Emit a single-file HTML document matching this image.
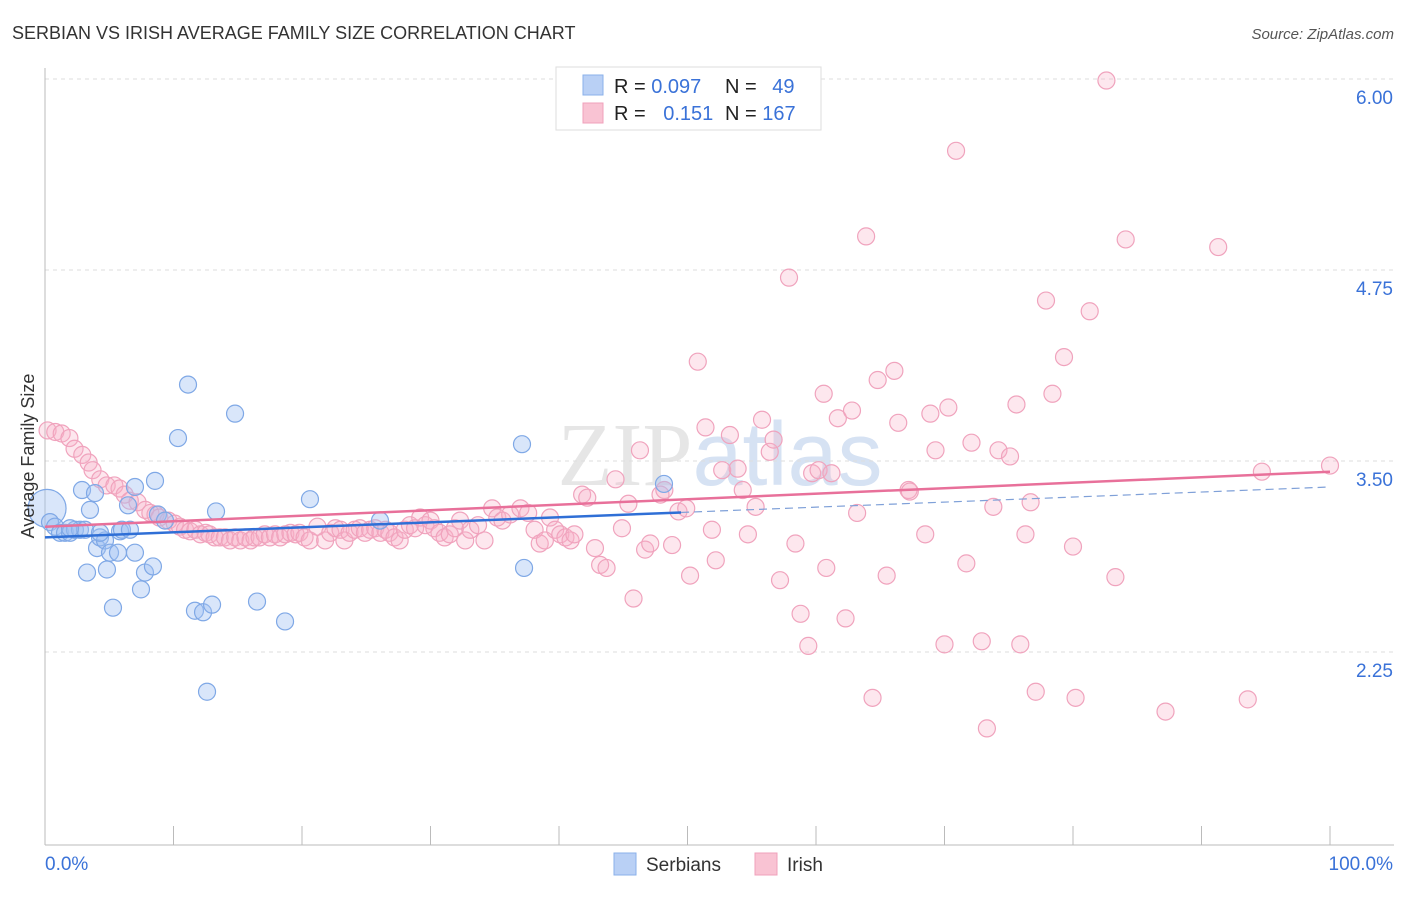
<!DOCTYPE html>
<html><head><meta charset="utf-8"><style>
body{margin:0;background:#fff;font-family:"Liberation Sans",sans-serif}
</style></head><body>
<svg id="c" width="1406" height="892" xmlns="http://www.w3.org/2000/svg">
<text x="12" y="39" font-size="18" fill="#333">SERBIAN VS IRISH AVERAGE FAMILY SIZE CORRELATION CHART</text>
<text x="1394" y="39" font-size="15" fill="#555" font-style="italic" text-anchor="end">Source: ZipAtlas.com</text>
<text x="720" y="485" font-size="90" fill="#e6e6e6" text-anchor="middle" font-family="Liberation Serif">ZIP<tspan fill="#d6e2f3" font-family="Liberation Sans">atlas</tspan></text>
<g id="grid"></g>
<g id="axes"></g>
<g id="pts"></g>
<g id="lines"></g>
<text transform="translate(34,456) rotate(-90)" font-size="18" fill="#333" text-anchor="middle">Average Family Size</text>
<g>
<rect x="556" y="67" width="265" height="63" fill="#fff" stroke="#ddd"/>
<rect x="583" y="75" width="20" height="20" fill="#b9d0f5" stroke="#8ab0ea"/>
<rect x="583" y="103" width="20" height="20" fill="#f9c3d3" stroke="#f0a0bb"/>
<text x="614" y="93" font-size="20" fill="#222">R = <tspan fill="#3a72d8">0.097</tspan></text>
<text x="725" y="93" font-size="20" fill="#222">N = <tspan fill="#3a72d8" dx="10">49</tspan></text>
<text x="614" y="120" font-size="20" fill="#222">R = <tspan fill="#3a72d8" dx="12">0.151</tspan></text>
<text x="725" y="120" font-size="20" fill="#222">N = <tspan fill="#3a72d8">167</tspan></text>
</g>
<g>
<rect x="614" y="853" width="22" height="22" fill="#b9d0f5" stroke="#8ab0ea"/>
<text x="646" y="871" font-size="19" fill="#333">Serbians</text>
<rect x="755" y="853" width="22" height="22" fill="#f9c3d3" stroke="#f0a0bb"/>
<text x="787" y="871" font-size="19" fill="#333">Irish</text>
</g>
</svg>
<script>
const yTicks=[6.00,4.75,3.50,2.25];
const serX=[0.16,0.39,0.78,1.17,1.56,1.95,2.33,2.72,3.11,2.88,3.89,3.5,4.05,4.28,4.67,5.06,5.68,5.84,5.99,7.0,3.27,4.82,7.78,8.4,7.47,5.29,6.46,7.0,8.56,8.79,9.34,10.35,11.13,11.67,12.3,13.0,13.31,14.79,12.61,16.5,18.68,20.62,26.07,37.12,37.28,48.17,4.28,1.95,6.61];
const serY=[3.19,3.10,3.07,3.03,3.03,3.03,3.05,3.05,3.05,3.31,3.29,3.18,2.93,3.00,2.98,2.90,2.90,3.04,3.05,2.90,2.77,2.79,2.77,2.81,2.66,2.54,3.21,3.33,3.37,3.15,3.11,3.65,4.00,2.52,2.51,2.56,3.17,3.81,1.99,2.58,2.45,3.25,3.11,3.61,2.80,3.35,3.03,3.06,3.05];
const irX=[0.2,0.8,1.3,1.9,2.3,2.9,3.4,3.7,4.3,4.8,5.4,5.8,6.2,6.6,7.2,7.8,8.2,8.6,8.9,9.6,10.1,10.5,10.9,11.3,11.7,12.1,12.5,12.8,13.2,13.6,14.0,14.4,14.8,15.2,15.6,16.0,16.3,16.7,17.1,17.5,17.9,18.3,18.7,19.1,19.5,19.8,20.2,20.6,21.2,21.8,22.2,22.6,23.0,23.3,23.7,24.1,24.5,24.9,25.3,25.7,26.1,26.5,26.8,27.2,27.6,28.0,28.4,28.8,29.2,29.6,30.0,30.3,30.7,31.1,31.5,31.9,32.3,32.7,33.1,33.7,34.2,34.8,35.2,35.6,36.2,37.0,37.6,38.1,38.5,38.9,39.3,39.7,40.1,40.5,40.9,41.2,41.8,42.2,42.8,43.2,43.7,44.4,44.9,45.4,45.8,46.3,46.7,47.1,47.9,48.2,48.8,49.3,49.9,50.2,50.8,51.4,51.9,52.2,52.7,53.3,53.9,54.3,54.7,55.3,55.8,56.4,56.7,57.2,57.9,58.4,58.8,59.4,59.7,60.2,60.6,60.8,61.2,61.7,62.3,62.8,63.2,63.9,64.4,64.8,65.5,66.1,66.4,67.2,67.3,68.5,68.9,69.3,70.0,70.3,70.9,71.7,72.1,72.9,73.3,73.8,74.2,75.1,75.6,75.9,76.3,76.7,77.1,77.9,78.4,79.3,80.0,80.2,81.3,82.6,83.3,84.1,87.2,91.3,93.6,94.7,100.0];
const irY=[3.70,3.69,3.68,3.65,3.58,3.54,3.49,3.44,3.38,3.34,3.34,3.32,3.28,3.24,3.23,3.18,3.16,3.15,3.13,3.11,3.09,3.07,3.05,3.04,3.05,3.02,3.03,3.02,3.00,3.00,3.00,2.98,3.00,2.98,3.00,2.98,3.00,3.00,3.02,3.00,3.02,3.00,3.02,3.03,3.02,3.03,3.00,2.98,3.07,2.98,3.03,3.06,3.05,2.98,3.03,3.05,3.06,3.03,3.05,3.06,3.03,3.05,3.03,3.00,2.98,3.05,3.08,3.06,3.13,3.08,3.11,3.06,3.03,3.00,3.02,3.06,3.11,2.98,3.05,3.08,2.98,3.19,3.13,3.11,3.15,3.19,3.16,3.05,2.96,2.98,3.13,3.05,3.02,3.00,2.98,3.02,3.28,3.26,2.93,2.82,2.80,3.38,3.06,3.22,2.60,3.57,2.92,2.96,3.28,3.31,2.95,3.17,3.19,2.75,4.15,3.72,3.05,2.85,3.44,3.67,3.45,3.31,3.02,3.20,3.77,3.56,3.64,2.72,4.70,2.96,2.50,2.29,3.42,3.44,3.94,2.80,3.42,3.78,2.47,3.83,3.16,4.97,1.95,4.03,2.75,4.09,3.75,3.31,3.30,3.02,3.81,3.57,2.30,3.85,5.53,2.83,3.62,2.32,1.75,3.20,3.57,3.53,3.87,2.30,3.02,3.23,1.99,4.55,3.94,4.18,2.94,1.95,4.48,5.99,2.74,4.95,1.86,4.90,1.94,3.43,3.47];
const serTrend=[3.00,3.33];
const irTrend=[3.07,3.43];
const X=p=>45+p*12.85, Y=v=>79+(6-v)*152.8;
const NS='http://www.w3.org/2000/svg';
function mk(parent,tag,attrs){const e=document.createElementNS(NS,tag);for(const k in attrs)e.setAttribute(k,attrs[k]);document.getElementById(parent).appendChild(e);return e;}
mk('grid','line',{x1:45,x2:1394,y1:Y(6),y2:Y(6),stroke:'#ddd','stroke-dasharray':'4,4'});
yTicks.forEach(t=>{
 const g=mk('grid','line',{x1:45,x2:1394,y1:Y(t),y2:Y(t),stroke:'#ddd','stroke-dasharray':'4,4'});
 
 
 const tx=mk('axes','text',{x:1393,y:Y(t)+25,'font-size':19,fill:'#3a72d8','text-anchor':'end'});
 tx.textContent=t.toFixed(2);
 
 
});
mk('axes','line',{x1:45,x2:45,y1:68,y2:845,stroke:'#bbb'});
mk('axes','line',{x1:45,x2:1394,y1:845,y2:845,stroke:'#bbb'});
for(let i=1;i<=10;i++){mk('axes','line',{x1:X(i*10),x2:X(i*10),y1:826,y2:845,stroke:'#bbb'});}
const l0=mk('axes','text',{x:45,y:870,'font-size':19,fill:'#3a72d8'});l0.textContent='0.0%';


const l1=mk('axes','text',{x:1393,y:870,'font-size':19,fill:'#3a72d8','text-anchor':'end'});l1.textContent='100.0%';


irX.forEach((x,i)=>{const c=mk('pts','circle',{cx:X(x),cy:Y(irY[i]),r:8.5,fill:'rgba(247,175,200,0.3)',stroke:'#f0a3bd','stroke-width':1.2});
 
 });
serX.forEach((x,i)=>{const c=mk('pts','circle',{cx:X(x),cy:Y(serY[i]),r:i==0?19:8.5,fill:'rgba(160,192,242,0.4)',stroke:'#7fa8e6','stroke-width':1.2});
 
 });
const sAt=p=>serTrend[0]+(serTrend[1]-serTrend[0])*p/100;
const a=mk('lines','line',{x1:X(0),y1:Y(sAt(0)),x2:X(49.5),y2:Y(sAt(49.5)),stroke:'#2f6fd6','stroke-width':2.5});


const b=mk('lines','line',{x1:X(49.5),y1:Y(sAt(49.5)),x2:X(100),y2:Y(sAt(100)),stroke:'#7fa0d8','stroke-width':1.2,'stroke-dasharray':'8,5'});


const d=mk('lines','line',{x1:X(0),y1:Y(irTrend[0]),x2:X(100),y2:Y(irTrend[1]),stroke:'#e8709a','stroke-width':2.5});


</script>
</body></html>
